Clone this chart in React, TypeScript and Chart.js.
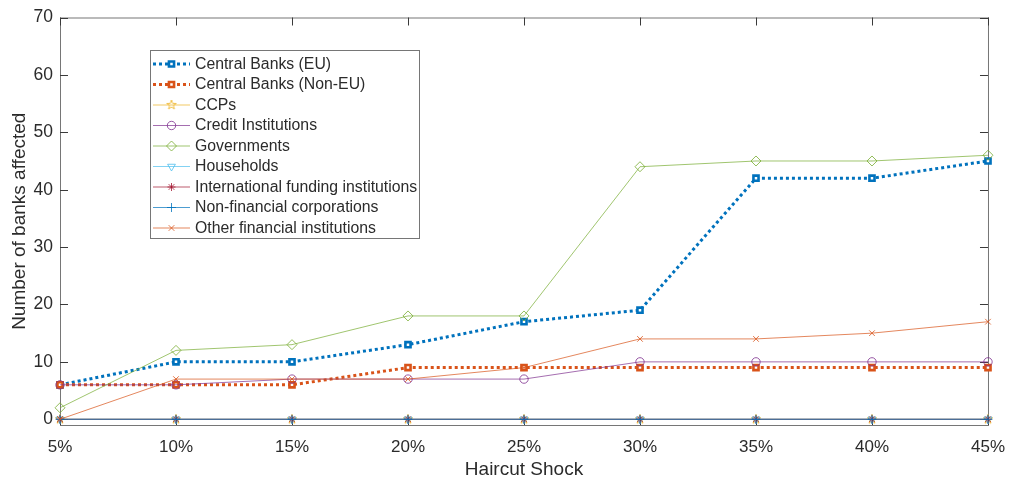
import { useEffect, useRef } from "react";
import { Chart, registerables } from "chart.js";
import { drawPoint } from "chart.js/helpers";

Chart.register(...registerables);

const shocks = ["5%", "10%", "15%", "20%", "25%", "30%", "35%", "40%", "45%"];
const yTicks = [0, 10, 20, 30, 40, 50, 60, 70];

const cbEu = [6, 10, 10, 13, 17, 19, 42, 42, 45];
const cbNonEu = [6, 6, 6, 9, 9, 9, 9, 9, 9];
const ccps = [0, 0, 0, 0, 0, 0, 0, 0, 0];
const creditInst = [6, 6, 7, 7, 7, 10, 10, 10, 10];
const governments = [2, 12, 13, 18, 18, 44, 45, 45, 46];
const households = [0, 0, 0, 0, 0, 0, 0, 0, 0];
const intlFunding = [0, 0, 0, 0, 0, 0, 0, 0, 0];
const nonFinCorp = [0, 0, 0, 0, 0, 0, 0, 0, 0];
const otherFin = [0, 7, 7, 7, 9, 14, 14, 15, 17];

const FONT = "'Liberation Sans', Arial, Helvetica, sans-serif";
const TEXT = "#2b2b2b";
const AXIS = "#767676";

function makePentagram(color: string, r: number) {
  const c = document.createElement("canvas");
  const size = Math.ceil(r * 2 + 2);
  c.width = c.height = size;
  const g = c.getContext("2d")!;
  g.strokeStyle = color;
  g.lineWidth = 0.8;
  g.beginPath();
  for (let k = 0; k < 10; k++) {
    const rr = k % 2 === 0 ? r : r * 0.4;
    const a = -Math.PI / 2 + (k * Math.PI) / 5;
    const px = size / 2 + rr * Math.cos(a);
    const py = size / 2 + rr * Math.sin(a);
    if (k === 0) g.moveTo(px, py);
    else g.lineTo(px, py);
  }
  g.closePath();
  g.stroke();
  return c;
}

// box with inward ticks, like a matlab axes
const axesPlugin = {
  id: "matlabAxes",
  beforeDatasetsDraw(chart: any) {
    const { ctx, chartArea, scales } = chart;
    const { left, right, top, bottom } = chartArea;
    const tl = 8;
    ctx.save();
    ctx.strokeStyle = AXIS;
    ctx.lineWidth = 1;
    ctx.strokeRect(left + 0.5, top + 0.5, right - left, bottom - top);
    ctx.strokeStyle = "#3a3a3a";
    ctx.beginPath();
    shocks.forEach((_, i) => {
      const px = Math.round(scales.x.getPixelForValue(i)) + 0.5;
      ctx.moveTo(px, bottom);
      ctx.lineTo(px, bottom - tl);
      ctx.moveTo(px, top);
      ctx.lineTo(px, top + tl);
    });
    yTicks.forEach((v) => {
      const py = Math.round(scales.y.getPixelForValue(v)) + 0.5;
      ctx.moveTo(left, py);
      ctx.lineTo(left + tl, py);
      ctx.moveTo(right, py);
      ctx.lineTo(right - tl, py);
    });
    ctx.stroke();
    ctx.restore();
  },
};

const legendPlugin = {
  id: "matlabLegend",
  afterDraw(chart: any) {
    const ctx = chart.ctx;
    const x0 = 150, y0 = 50, w = 269, h = 188;
    ctx.save();
    ctx.fillStyle = "#fff";
    ctx.fillRect(x0, y0, w, h);
    ctx.strokeStyle = AXIS;
    ctx.lineWidth = 1;
    ctx.strokeRect(x0 + 0.5, y0 + 0.5, w, h);
    ctx.font = `15.8px ${FONT}`;
    ctx.textBaseline = "middle";
    chart.data.datasets.forEach((ds: any, i: number) => {
      const y = 64 + i * 20.5;
      ctx.save();
      ctx.strokeStyle = ds.borderColor;
      ctx.lineWidth = ds.borderWidth;
      ctx.setLineDash(ds.borderDash || []);
      ctx.beginPath();
      ctx.moveTo(153, y);
      ctx.lineTo(190, y);
      ctx.stroke();
      ctx.setLineDash([]);
      ctx.fillStyle = ds.pointBackgroundColor;
      ctx.strokeStyle = ds.pointBorderColor;
      ctx.lineWidth = ds.pointBorderWidth;
      drawPoint(ctx, {
        pointStyle: ds.pointStyle,
        rotation: ds.pointRotation || 0,
        radius: ds.pointRadius,
        borderWidth: ds.pointBorderWidth,
      } as any, 171.5, y);
      ctx.restore();
      ctx.fillStyle = TEXT;
      ctx.fillText(ds.label, 195, y + 0.5);
    });
    ctx.restore();
  },
};

export default function App() {
  const canvasRef = useRef<HTMLCanvasElement>(null);

  useEffect(() => {
    if (!canvasRef.current) return;
    const ctx = canvasRef.current.getContext("2d");
    if (!ctx) return;

    const thin = (label: string, data: number[], color: string, pointStyle: any, radius: number, extra: any = {}) => ({
      label,
      data,
      borderColor: color,
      borderWidth: 0.7,
      pointStyle,
      pointRadius: radius,
      pointBorderColor: color,
      pointBackgroundColor: "rgba(0,0,0,0)",
      pointBorderWidth: 0.8,
      ...extra,
    });
    const dotted = (label: string, data: number[], color: string) => ({
      label,
      data,
      borderColor: color,
      borderWidth: 3,
      borderDash: [3, 3],
      pointStyle: "rect",
      pointRadius: 3.6,
      pointBorderColor: color,
      pointBackgroundColor: "#fff",
      pointBorderWidth: 2.6,
    });

    const datasets: any[] = [
      dotted("Central Banks (EU)", cbEu, "#0072BD"),
      dotted("Central Banks (Non-EU)", cbNonEu, "#D95319"),
      thin("CCPs", ccps, "#EDB120", makePentagram("#EDB120", 5), 5),
      thin("Credit Institutions", creditInst, "#7E2F8E", "circle", 4.2),
      thin("Governments", governments, "#77AC30", "rectRot", 5),
      thin("Households", households, "#4DBEEE", "triangle", 4.5, { pointRotation: 180 }),
      thin("International funding institutions", intlFunding, "#A2142F", "star", 4),
      thin("Non-financial corporations", nonFinCorp, "#0072BD", "cross", 4.5),
      thin("Other financial institutions", otherFin, "#D95319", "crossRot", 4),
    ];
    datasets.forEach((d, i) => {
      d.order = datasets.length - i;
      d.tension = 0;
      d.fill = false;
      d.borderCapStyle = "butt";
    });

    const chart = new Chart(ctx, {
      type: "line",
      data: { labels: shocks, datasets },
      options: {
        responsive: true,
        maintainAspectRatio: false,
        animation: false,
        layout: { padding: { top: 13, right: 24, left: 0, bottom: 0 } },
        plugins: { legend: { display: false }, tooltip: { enabled: false } },
        scales: {
          x: {
            type: "category",
            offset: false,
            grid: { display: false, drawTicks: false },
            border: { display: false },
            ticks: { font: { family: FONT, size: 17 }, color: TEXT, padding: 12, maxRotation: 0, autoSkip: false },
            title: {
              display: true,
              text: "Haircut Shock",
              font: { family: FONT, size: 19 },
              color: TEXT,
              padding: { top: 0, bottom: 2 },
            },
            afterFit: (s: any) => {
              s.height = 58;
            },
          },
          y: {
            min: -1,
            max: 70,
            grid: { display: false, drawTicks: false },
            border: { display: false },
            ticks: { font: { family: FONT, size: 17.5 }, color: TEXT, padding: 7 },
            afterBuildTicks: (axis: any) => {
              axis.ticks = yTicks.map((v) => ({ value: v }));
            },
            title: {
              display: true,
              text: "Number of banks affected",
              font: { family: FONT, size: 19 },
              color: TEXT,
              padding: { top: 8, bottom: 0 },
            },
            afterFit: (s: any) => {
              s.width = 60;
            },
          },
        },
      },
      plugins: [axesPlugin, legendPlugin],
    });

    return () => chart.destroy();
  }, []);

  return (
    <div style={{ position: "fixed", left: 0, top: 0, width: 1017, height: 483, background: "#fff" }}>
      <canvas ref={canvasRef} />
    </div>
  );
}
